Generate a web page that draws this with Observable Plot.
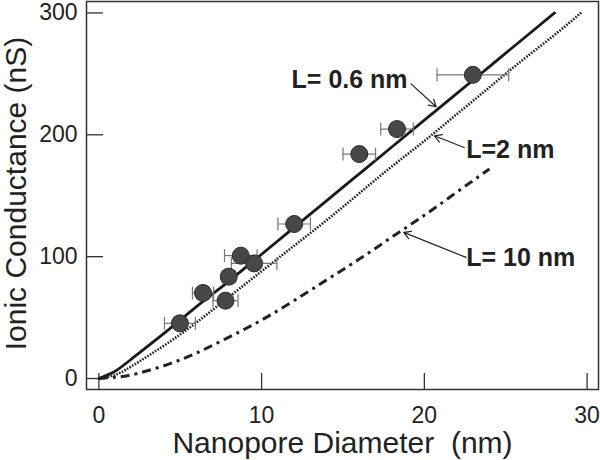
<!DOCTYPE html>
<html><head><meta charset="utf-8">
<script src="https://cdn.jsdelivr.net/npm/d3@7"></script>
<script src="https://cdn.jsdelivr.net/npm/@observablehq/plot@0.6"></script>
<style>
html,body{margin:0;padding:0;background:#fff;}
#chart{width:600px;height:460px;}
svg text{white-space:pre;}
</style></head><body><div id="chart"></div>
<script>
// Axis ticks and labels
const xTicks = [0, 10, 20, 30];
const yTicks = [0, 100, 200, 300];
const xLabel = "Nanopore Diameter  (nm)";
const yLabel = "Ionic Conductance (nS)";

// Measured points (diameter nm, conductance nS, diameter error nm)
const diam    = [4.98, 6.4, 7.98, 7.78, 8.72, 9.54, 12.0, 16.0, 18.32, 22.98];
const cond    = [45.3, 70.2, 83.6, 63.9, 100.8, 94.5, 126.8, 184.2, 204.7, 249.2];
const diamErr = [0.95, 0.65, 0.4, 0.77, 1.0, 1.4, 1.0, 1.0, 1.0, 2.2];

// Model curves
const dL06 = [0, 1, 2, 4, 6, 8, 10, 12, 14, 16, 18, 20, 22, 24, 26, 28];
const gL06 = [0, 6, 16, 37, 59, 80, 102, 124, 146, 168, 190, 212, 234, 256, 278, 300];
const dL2  = [0, 1, 2, 4, 6, 8, 10, 12, 14, 16, 18, 20, 22, 24, 26, 28, 29.7];
const gL2  = [0, 3, 10, 27, 46, 67, 88, 109, 130, 152, 174, 195, 217, 239, 261, 282, 301];
const dL10 = [0, 1, 2, 4, 6, 8, 10, 12, 14, 16, 18, 20, 22, 24];
const gL10 = [0, 1, 3, 10.5, 21, 34, 48, 64, 81, 98, 116, 134, 153, 172];

// Annotations (data units)
const labelText = ["L= 0.6 nm", "L=2 nm", "L= 10 nm"];
const labelX    = [11.84, 22.57, 22.57];
const labelY    = [245.3, 187.9, 98.6];
const arrowX1   = [19.18, 22.44, 22.56];
const arrowY1   = [241.8, 189.6, 99.4];
const arrowX2   = [20.72, 20.62, 18.73];
const arrowY2   = [223.0, 199.2, 119.9];

const pts = diam.map((x, i) => ({x, y: cond[i], e: diamErr[i]}));
const toXY = (xs, ys) => xs.map((x, i) => ({x, y: ys[i]}));
const c06 = toXY(dL06, gL06), c2 = toXY(dL2, gL2), c10 = toXY(dL10, gL10);
const labels = labelText.map((t, i) => ({t, x: labelX[i], y: labelY[i]}));
const arrows = arrowX1.map((x1, i) => ({x1, y1: arrowY1[i], x2: arrowX2[i], y2: arrowY2[i]}));

const capSymbol = {draw(ctx, size) { const h = Math.sqrt(size / Math.PI); ctx.moveTo(0, -h); ctx.lineTo(0, h); }};

const W = 600, H = 460, mL = 86, mR = 2, mT = 1, mB = 71;
const font = "'Liberation Sans', Arial, Helvetica, sans-serif";

const chart = Plot.plot({
  width: W, height: H,
  marginLeft: mL, marginRight: mR, marginTop: mT, marginBottom: mB,
  x: {domain: [-0.76, 30.7]},
  y: {domain: [-9, 309.4]},
  style: {fontFamily: font, background: "#fff", color: "#222"},
  marks: [
    Plot.frame({stroke: "#333", strokeWidth: 1.5}),
    Plot.tickY(yTicks, {y: d => d, stroke: "#333", strokeWidth: 1.3, insetRight: (W - mL - mR) - 17}),
    Plot.tickX(xTicks, {x: d => d, stroke: "#333", strokeWidth: 1.3, insetTop: (H - mT - mB) - 16}),
    Plot.axisY(yTicks, {tickSize: 0, tickPadding: 9, fontSize: 23, label: null, fill: "#222"}),
    Plot.axisX(xTicks, {tickSize: 0, tickPadding: 17, fontSize: 23, label: null, fill: "#222"}),
    Plot.text([xLabel], {text: d => d, frameAnchor: "bottom", textAnchor: "middle", lineAnchor: "top", dy: 42, fontSize: 30, fill: "#222"}),
    Plot.text([yLabel], {text: d => d, frameAnchor: "left", textAnchor: "middle", rotate: -90, lineAnchor: "top", dx: -82, dy: -2, fontSize: 30, fill: "#222"}),
    Plot.line(c10, {x: "x", y: "y", curve: "natural", stroke: "#222", strokeWidth: 3, strokeLinecap: "butt", strokeDasharray: "9,5,3,5"}),
    Plot.line(c2, {x: "x", y: "y", curve: "natural", stroke: "#222", strokeWidth: 2.6, strokeLinecap: "butt", strokeDasharray: "1.6,1.4"}),
    Plot.line(c06, {x: "x", y: "y", curve: "natural", stroke: "#1a1a1a", strokeWidth: 2.8}),
    Plot.ruleY(pts, {y: "y", x1: d => d.x - d.e, x2: d => d.x + d.e, stroke: "#777", strokeWidth: 1.2}),
    Plot.dot(pts, {x: d => d.x - d.e, y: "y", symbol: capSymbol, r: 6.5, stroke: "#777", strokeWidth: 1.2, fill: "none"}),
    Plot.dot(pts, {x: d => d.x + d.e, y: "y", symbol: capSymbol, r: 6.5, stroke: "#777", strokeWidth: 1.2, fill: "none"}),
    Plot.dot(pts, {x: "x", y: "y", r: 8.5, fill: "#474747", stroke: "#2a2a2a", strokeWidth: 1}),
    Plot.arrow(arrows, {x1: "x1", y1: "y1", x2: "x2", y2: "y2", stroke: "#222", strokeWidth: 1.2, headLength: 10}),
    Plot.text(labels, {x: "x", y: "y", text: "t", textAnchor: "start", lineAnchor: "middle", fontSize: 25, fontWeight: "bold", fill: "#222"})
  ]
});
document.getElementById("chart").appendChild(chart);
</script>
</body></html>
